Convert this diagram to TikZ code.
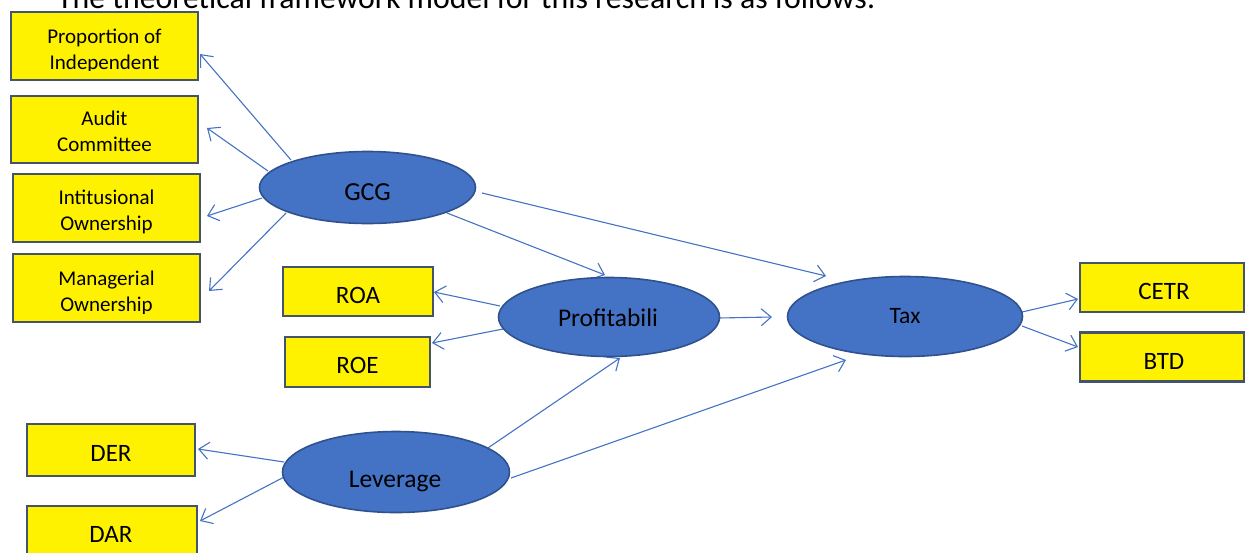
\documentclass[tikz,border=0pt]{standalone}
\usepackage{fontspec}
\setmainfont{Carlito}
\usetikzlibrary{arrows.meta,shapes.geometric}
\definecolor{lineblue}{HTML}{4472C4}
\definecolor{ellfill}{HTML}{4472C4}
\definecolor{elldraw}{HTML}{2F528F}
\definecolor{boxdraw}{HTML}{44546A}
\pgfdeclarelayer{bg}
\pgfsetlayers{bg,main}
\begin{document}
\begin{tikzpicture}[x=1pt,y=-1pt,
  box/.style={draw=boxdraw, line width=2.5pt, fill=yellow, inner sep=0pt, outer sep=0pt},
  ell/.style={ellipse, draw=elldraw, line width=1.6pt, fill=ellfill, inner sep=0pt, outer sep=0pt},
  arr/.style={draw=lineblue, line width=1.1pt, -{Straight Barb[length=10pt,width=17pt,line width=1.1pt]}},
  small/.style={font=\fontsize{21}{26}\selectfont, anchor=base, inner sep=0pt},
  big/.style={font=\fontsize{25}{30}\selectfont, anchor=base, inner sep=0pt}]
\useasboundingbox (0,0) rectangle (1246,552);

\node[font=\fontsize{31.8}{38}\selectfont, anchor=base west, inner sep=0pt] (title) at (57,8.5) {The theoretical framework model for this research is as follows:};

% indicator boxes
\node[box, minimum width=187pt, minimum height=68pt] (prop) at (104.5,46) {};
\node[box, minimum width=187pt, minimum height=67pt] (audit) at (104.5,129.5) {};
\node[box, minimum width=187pt, minimum height=68pt] (inst) at (106.5,208) {};
\node[box, minimum width=187pt, minimum height=68pt] (manag) at (106.5,288) {};
\node[box, minimum width=150pt, minimum height=49pt] (roa) at (358,291.5) {};
\node[box, minimum width=145pt, minimum height=50pt] (roe) at (357.5,362) {};
\node[box, minimum width=168pt, minimum height=52pt] (der) at (111,450) {};
\node[box, minimum width=170pt, minimum height=64pt] (dar) at (112,538) {};
\node[box, minimum width=164pt, minimum height=49pt] (cetr) at (1162,287.5) {};
\node[box, minimum width=164pt, minimum height=49pt] (btd) at (1162,357) {};

\begin{scope}
\clip (11,12) rectangle (198,70.3);
\node[small] (propa) at (104.5,43.3) {Proportion of};
\node[small] (propb) at (104.5,69.3) {Independent};
\end{scope}
\node[small] (audita) at (104.5,125) {Audit};
\node[small] (auditb) at (104.5,151.5) {Committee};
\node[small] (insta) at (106.5,204) {Intitusional};
\node[small] (instb) at (106.5,230) {Ownership};
\begin{scope}
\clip (13,254) rectangle (200,313);
\node[small] (managa) at (106.5,285) {Managerial};
\node[small] (managb) at (106.5,311) {Ownership};
\end{scope}
\node[big] (roat) at (358,303) {ROA};
\node[big] (roet) at (357.5,373) {ROE};
\node[big] (dert) at (111,461.5) {DER};
\node[big] (dart) at (111,542.5) {DAR};
\node[big] (cetrt) at (1164,299) {CETR};
\node[big] (btdt) at (1164,369) {BTD};

% latent variables
\node[ell, minimum width=216pt, minimum height=72pt] (gcg) at (367.5,187.5) {};
\node[ell, minimum width=221pt, minimum height=79pt] (prof) at (609,317) {};
\node[ell, minimum width=235pt, minimum height=80pt] (tax) at (905,316.5) {};
\node[ell, minimum width=227pt, minimum height=81pt] (lev) at (396,472) {};
\node[big, font=\fontsize{26}{30}\selectfont] (gcgt) at (367.5,200) {GCG};
\node[big, font=\fontsize{25.5}{30}\selectfont] (proft) at (608,326) {Profitabili};
\node[big, font=\fontsize{23.5}{28}\selectfont] (taxt) at (905,323.5) {Tax};
\node[big, font=\fontsize{25.5}{30}\selectfont] (levt) at (395,487) {Leverage};

\begin{pgfonlayer}{bg}
\draw[arr] ([shift={(-76.5,-27.5)}]gcg.center) -- ([shift={(2,8)}]prop.east);
\draw[arr] ([shift={(-99.5,-16.5)}]gcg.center) -- ([shift={(9,-1.5)}]audit.east);
\draw[arr] ([shift={(-105.5,10.5)}]gcg.center) -- ([shift={(7,8)}]inst.east);
\draw[arr] ([shift={(-81.5,25.5)}]gcg.center) -- ([shift={(9,3)}]manag.east);
\draw[arr] ([shift={(79.5,25.5)}]gcg.center) -- ([shift={(-4,-2.5)}]prof.north);
\draw[arr] ([shift={(114.5,5.5)}]gcg.center) -- ([shift={(-79,-40.5)}]tax.center);
\draw[arr] ([shift={(-109,-11)}]prof.center) -- ([shift={(1,0.5)}]roa.east);
\draw[arr] ([shift={(-106,12)}]prof.center) -- ([shift={(2,-19)}]roe.east);
\draw[arr] ([shift={(-1,1)}]prof.east) -- ([shift={(-15.5,0.5)}]tax.west);
\draw[arr] ([shift={(86,-20)}]lev.center) -- ([shift={(11,1.5)}]prof.south);
\draw[arr] ([shift={(115,6)}]lev.center) -- ([shift={(-59,43.5)}]tax.center);
\draw[arr] ([shift={(-112,-10)}]lev.center) -- ([shift={(3,-1)}]der.east);
\draw[arr] ([shift={(-110,4)}]lev.center) -- ([shift={(3,-17)}]dar.east);
\draw[arr] ([shift={(117,-4.5)}]tax.center) -- ([shift={(-2,11.5)}]cetr.west);
\draw[arr] ([shift={(117,9.5)}]tax.center) -- ([shift={(-2,-10)}]btd.west);
\end{pgfonlayer}
\end{tikzpicture}
\end{document}
